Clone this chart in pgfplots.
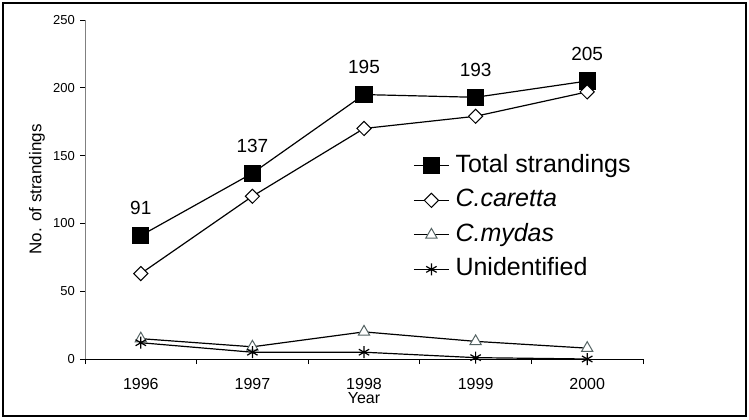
\documentclass[border=0pt]{standalone}
\usepackage{fontspec}
\setmainfont{Liberation Sans}
\usepackage{pgfplots}
\pgfplotsset{compat=1.18}
\definecolor{trigray}{RGB}{85,100,100}
\definecolor{spinegray}{RGB}{128,128,128}

\begin{document}
\begin{tikzpicture}[x=1bp,y=1bp]
\useasboundingbox (0,0) rectangle (749,419);
\draw[line width=1.3bp] (3,3) rectangle (746,416);
\begin{axis}[
    at={(85bp,60bp)}, anchor=south west,
    scale only axis, width=558bp, height=339bp,
    xmin=1995.5, xmax=2000.5, ymin=0, ymax=250,
    clip=false,
    axis x line*=bottom, axis y line*=left,
    x axis line style={-, line width=1bp, black},
    y axis line style={-, line width=1bp, spinegray},
    xtick={1996,1997,1998,1999,2000},
    xticklabels={1996,1997,1998,1999,2000},
    minor xtick={1995.5,1996.5,1997.5,1998.5,1999.5,2000.5},
    ytick={0,50,100,150,200,250},
    tick align=outside,
    major tick length=5bp, minor tick length=5bp,
    major x tick style={draw=none},
    every tick/.append style={line width=0.8bp, black},
    /pgf/number format/assume math mode=true,
    xticklabel style={font=\fontsize{16bp}{18bp}\selectfont, anchor=base, yshift=-25.5bp},
    yticklabel style={font=\fontsize{13bp}{15bp}\selectfont, anchor=east, inner sep=0pt, xshift=-5bp},
    xlabel={Year},
    xlabel style={font=\fontsize{16bp}{18bp}\selectfont, at={(axis description cs:0.5,0)}, anchor=base, yshift=-44.5bp},
    ylabel={No. of strandings},
    ylabel style={font=\fontsize{17bp}{20bp}\selectfont, at={(axis description cs:0,0.5)}, anchor=center, yshift=48bp},
    legend style={draw=none, fill=none, inner sep=0pt,
        at={(axis cs:1998.44,151.8)}, anchor=north west,
        font=\fontsize{25bp}{30bp}\selectfont, row sep=9.5bp,
        nodes={inner sep=1bp, text height=18bp, text depth=5bp},
        /tikz/every odd column/.append style={column sep=5bp}},
    legend cell align=left,
    legend image code/.code={\draw[mark repeat=2,mark phase=2,#1] plot coordinates {(0bp,0bp) (17.5bp,0bp) (35bp,0bp)};},
]
\addplot[black, line width=1.2bp, mark=square*, mark size=8bp, mark options={solid, fill=black},
    nodes near coords,
    every node near coord/.append style={font=\fontsize{19bp}{22bp}\selectfont, anchor=base, yshift=21bp, inner sep=0pt, black}]
    coordinates {(1996,91) (1997,137) (1998,195) (1999,193) (2000,205)};
\addlegendentry{Total strandings}
\addplot[black, line width=1.2bp, mark=square*, mark size=5bp, mark options={solid, rotate=45, fill=white, line width=1bp}]
    coordinates {(1996,63) (1997,120) (1998,170) (1999,179) (2000,197)};
\addlegendentry{\textit{C.caretta}}
\addplot[black, line width=1.2bp, mark=triangle*, mark size=6.5bp, mark options={solid, fill=white, draw=trigray, line width=1bp}]
    coordinates {(1996,15) (1997,9) (1998,20) (1999,13) (2000,8)};
\addlegendentry{\textit{C.mydas}}
\addplot[black, line width=1.2bp, mark=asterisk, mark size=6bp, mark options={solid, line width=1.2bp}]
    coordinates {(1996,12) (1997,5) (1998,5) (1999,1) (2000,0)};
\addlegendentry{Unidentified}
\end{axis}
\end{tikzpicture}
\end{document}
